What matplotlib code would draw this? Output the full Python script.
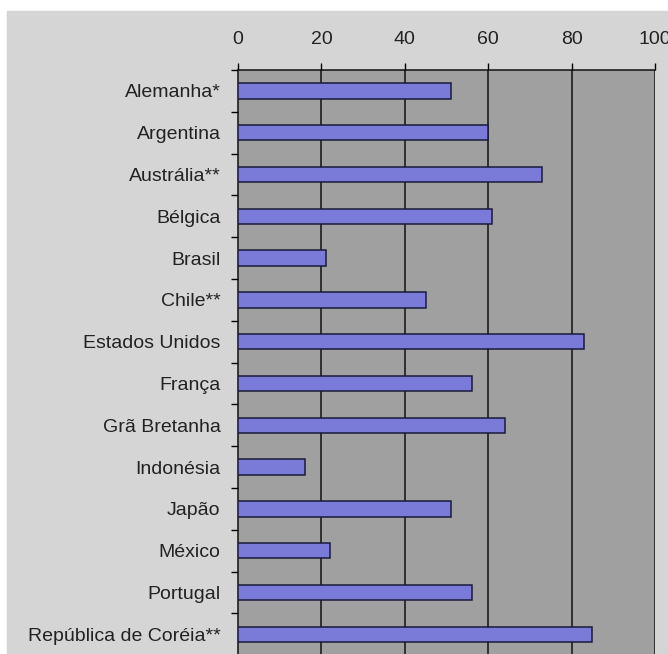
import matplotlib
matplotlib.use("Agg")
import matplotlib.pyplot as plt
import numpy as np
from matplotlib.patches import Rectangle

countries = [
    "Alemanha*", "Argentina", "Austrália**", "Bélgica", "Brasil", "Chile**",
    "Estados Unidos", "França", "Grã Bretanha", "Indonésia", "Japão",
    "México", "Portugal", "República de Coréia**",
]
values = [51, 60, 73, 61, 21, 45, 83, 56, 64, 16, 51, 22, 56, 85]
xticks = [0, 20, 40, 60, 80, 100]

plt.rcParams["font.family"] = ["Liberation Sans", "DejaVu Sans"]

W, H = 668, 654
fig = plt.figure(figsize=(W / 100, H / 100), dpi=100, facecolor="white")
# light grey chart area inside a thin white border
fig.patches.append(Rectangle((7 / W, 0), 1, 1 - 11 / H, transform=fig.transFigure,
                             color="#d5d5d5", zorder=-10))

left, right, top = 238 / W, 655 / W, 70 / H
n = len(countries)
row = 41.8 / H
ax = fig.add_axes([left, 1 - top - n * row, right - left, n * row])
ax.set_facecolor("#a0a0a0")

y = np.arange(n)
ax.barh(y, values, height=0.37, color="#7a7ad8", edgecolor="#1a1a3a", linewidth=1.1, zorder=3)

ax.set_xlim(0, 100)
ax.set_ylim(n - 0.5, -0.5)
ax.set_xticks(xticks)
ax.xaxis.tick_top()
ax.tick_params(axis="x", direction="out", length=5, width=1, pad=11,
               labelsize=14, labelcolor="#222222")
for xv in xticks[1:]:
    ax.axvline(xv, color="#111111", linewidth=1.1, zorder=1)

ax.set_yticks(y)
ax.set_yticklabels(countries)
ax.set_yticks(np.arange(n + 1) - 0.5, minor=True)
ax.tick_params(axis="y", which="major", length=0, pad=12.5, labelsize=14, labelcolor="#222222")
ax.tick_params(axis="y", which="minor", direction="out", length=5, width=1)

for s in ["bottom", "right"]:
    ax.spines[s].set_visible(False)
for s in ["top", "left"]:
    ax.spines[s].set_color("#111111")
    ax.spines[s].set_linewidth(1.1)

fig.savefig("out.png", dpi=100)
